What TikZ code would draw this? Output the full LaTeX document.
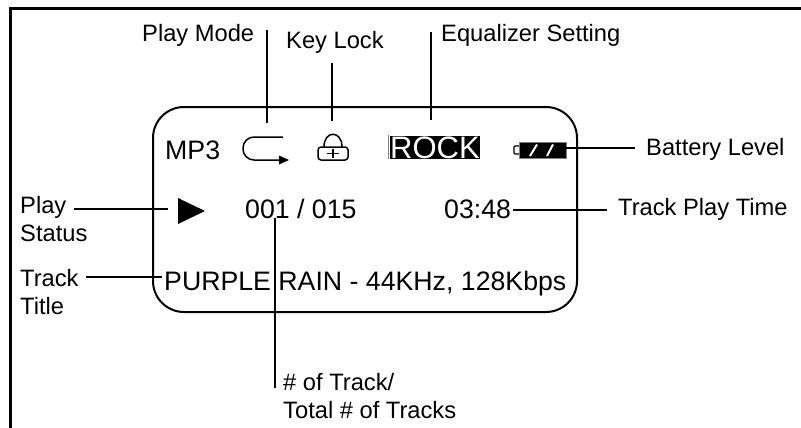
\documentclass[tikz,border=0pt]{standalone}
\usepackage{fontspec}
\setmainfont{Liberation Sans}
\usetikzlibrary{positioning,arrows.meta}

\begin{document}
\begin{tikzpicture}[
	x=1pt,y=-1pt,
	mylabel/.style={font=\fontsize{23.7}{27.7}\selectfont,inner sep=0pt,align=left},
	mytext/.style={font=\fontsize{26.7}{30}\selectfont,inner sep=0pt,anchor=base west},
	myline/.style={line width=2pt},
	myicon/.style={line width=1.5pt,line join=round}
	]
	\useasboundingbox (0,0) rectangle (801,428);
	% outer frame
	\draw[line width=3pt] (10,428) -- (10,9) -- (801,9);
	% display
	\draw[myline,rounded corners=31pt] (153,107) rectangle (577,312);
	% items on the display
	\node[mytext] (mp) at (165,159) {MP3};
	\node[mytext] (number) at (245,218) {001 / 015};
	\node[mytext] (time) at (444,218) {03:48};
	\node[mytext] (title) at (164,290) {PURPLE RAIN - 44KHz, 128Kbps};
	\node[font=\fontsize{31}{31}\selectfont,fill=black,text=white,inner sep=0pt,text height=23pt,text depth=0pt,minimum width=89pt,anchor=west] (rock) at (390,147) {ROCK};
	\draw[line width=0.7pt,gray] (388,135) -- (388,159);
	% play mode icon
	\draw[myicon,rounded corners=11pt] (283,137) -- (243,137) -- (243,160) -- (282,160);
	\fill (279,155.5) -- (289,160) -- (279,164.5) -- cycle;
	% lock icon
	\draw[myicon,rounded corners=3pt] (318,147) rectangle (348,160);
	\draw[myicon] (324,147) .. controls (324,130) and (342,130) .. (342,147);
	\draw[myicon] (327,153.5) -- (339,153.5) (333,149) -- (333,158);
	% battery icon
	\node[draw=gray,fill=black,line width=1pt,minimum width=47pt,minimum height=16pt,inner sep=0pt] (battery) at (542.5,150) {};
	\draw[line width=1.1pt,rounded corners=1pt] (519,146) -- (514,146) -- (514,154) -- (519,154);
	\draw[white,line width=2pt] (530,156) -- (537,144.5) (547,156) -- (553,144.5);
	% play symbol
	\fill (178,198) -- (205,211) -- (178,224) -- cycle;
	% labels
	\node[mylabel,anchor=base west] (lmode) at (142,42) {Play Mode};
	\node[mylabel,anchor=base west] (llock) at (286,49) {Key Lock};
	\node[mylabel,anchor=base west] (leq) at (441,42) {Equalizer Setting};
	\node[mylabel,anchor=base west] (lbat) at (646,155) {Battery Level};
	\node[mylabel,anchor=base west] (ltime) at (618,215) {Track Play Time};
	\node[mylabel,anchor=north west] (lplay) at (20,196) {Play\\Status};
	\node[mylabel,anchor=north west] (ltitle) at (20,269) {Track\\Title};
	\node[mylabel,anchor=north west] (lnumber) at (283,373) {\# of Track/\\Total \# of Tracks};
	% line ends
	\coordinate (amode) at (267,30);
	\coordinate (bmode) at (267,123);
	\coordinate (alock) at (332,63);
	\coordinate (block) at (332,121);
	\coordinate (aeq) at (431,32);
	\coordinate (beq) at (431,120);
	\coordinate (abat) at (566,148);
	\coordinate (bbat) at (635,148);
	\coordinate (atime) at (513,210);
	\coordinate (btime) at (607,210);
	\coordinate (aplay) at (74,209);
	\coordinate (bplay) at (168,209);
	\coordinate (atitle) at (86,277);
	\coordinate (btitle) at (162,277);
	\coordinate (anumber) at (275,218);
	\coordinate (bnumber) at (275,388);
	% connectors
	\path[myline]
	(amode) edge (bmode)
	(alock) edge (block)
	(aeq) edge (beq)
	(abat) edge (bbat)
	(atime) edge (btime)
	(aplay) edge (bplay)
	(atitle) edge (btitle)
	(anumber) edge (bnumber);
\end{tikzpicture}
\end{document}
